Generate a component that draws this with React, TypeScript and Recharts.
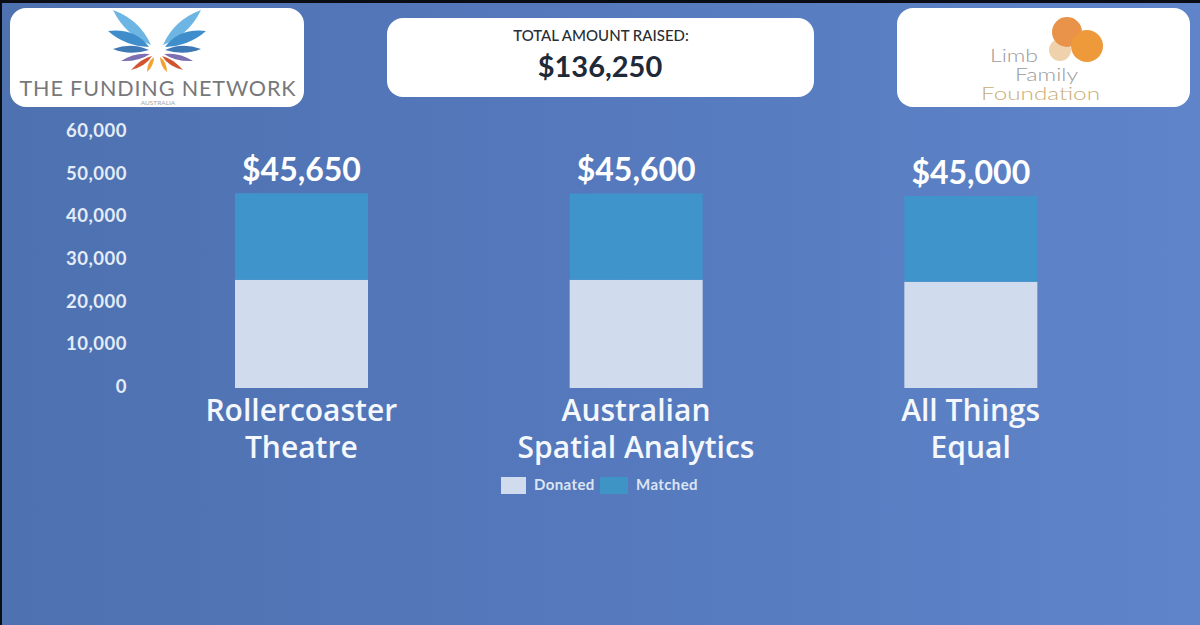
import React from 'react';
import { BarChart, Bar, XAxis, YAxis, Legend, LabelList } from 'recharts';

const organisations = ['Rollercoaster\nTheatre', 'Australian\nSpatial Analytics', 'All Things\nEqual'];
const donated = [25400, 25400, 24900];
const matched = [20250, 20200, 20100];
const totals = [45650, 45600, 45000];
const yTicks = [0, 10000, 20000, 30000, 40000, 50000, 60000];

const totalRaised = '$136,250';
const FONT = 'Lato, sans-serif';

const chartData = organisations.map((name, i) => ({
    name,
    donated: donated[i],
    matched: matched[i],
    total: totals[i],
}));

// logo feathers, left side, mirrored for the right one
const feathers = [
    { d: 'M113 10 Q140 20 151 45 Q125 35 113 10Z', fill: '#6db6e4' },
    { d: 'M108 31 Q135 28 149 47 Q125 46 108 31Z', fill: '#3f8ecb' },
    { d: 'M113 49 Q132 42 149 50 Q130 56 113 49Z', fill: '#3f79b5' },
    { d: 'M121 61 Q135 52 150 54 Q138 62 121 61Z', fill: '#7c6fb2' },
    { d: 'M131 70 Q142 58 152 56 Q146 66 131 70Z', fill: '#d2532f' },
    { d: 'M147 72 Q147 62 154 57 Q154 66 147 72Z', fill: '#f0a232' },
];

const card = (left: number, top: number, width: number, height: number): React.CSSProperties => ({
    position: 'absolute',
    left,
    top,
    width,
    height,
    background: '#fff',
    borderRadius: 16,
});

const CategoryTick = ({ x, y, payload }: any) => (
    <text x={x} textAnchor="middle" fill="#f4f7fc" fontFamily="'Open Sans', sans-serif" fontWeight={600} fontSize={30}>
        {String(payload.value).split('\n').map((line, i) => (
            <tspan key={line} x={x} y={y + 25 + i * 37}>{line}</tspan>
        ))}
    </text>
);

const LegendContent = () => (
    <div style={{ position: 'relative', width: 210, height: 20, fontFamily: FONT, fontWeight: 700, fontSize: 15, letterSpacing: 0.4, color: '#dbe5f4' }}>
        <div style={{ position: 'absolute', left: 0, top: 1, width: 25, height: 17, background: '#d0dcee' }} />
        <div style={{ position: 'absolute', left: 33, top: -1 }}>Donated</div>
        <div style={{ position: 'absolute', left: 99, top: 1, width: 28, height: 17, background: '#3f94c6' }} />
        <div style={{ position: 'absolute', left: 135, top: -1 }}>Matched</div>
    </div>
);

const App = () => (
    <div style={{
        position: 'absolute',
        left: 0,
        top: 0,
        width: 1200,
        height: 625,
        overflow: 'hidden',
        background: 'linear-gradient(90deg, #4e71b0 0%, #5478bb 45%, #5f84c9 100%)',
    }}>
        <div style={{ position: 'absolute', left: 0, top: 0, width: 1200, height: 3, background: '#0a0d14' }} />
        <div style={{ position: 'absolute', left: 0, top: 0, width: 2, height: 625, background: '#0a0d14' }} />

        <div style={card(10, 8, 294, 99)} />
        <div style={card(387, 18, 427, 79)} />
        <div style={card(897, 8, 293, 99)} />

        <svg width={1200} height={120} style={{ position: 'absolute', left: 0, top: 0 }}>
            {feathers.map((f) => (
                <g key={f.fill}>
                    <path d={f.d} fill={f.fill} />
                    <path d={f.d} fill={f.fill} transform="translate(314 0) scale(-1 1)" />
                </g>
            ))}
            <text x={158} y={96} textAnchor="middle" fontFamily={FONT} fontWeight={400} fontSize={21.5} letterSpacing={0.9} fill="#77787a">THE FUNDING NETWORK</text>
            <text x={158} y={105} textAnchor="middle" fontFamily={FONT} fontSize={6.5} fill="#a5a5a8">AUSTRALIA</text>

            <text x={601} y={41} textAnchor="middle" fontFamily={FONT} fontWeight={500} fontSize={15} fill="#2a2d33">TOTAL AMOUNT RAISED:</text>
            <text x={600} y={77} textAnchor="middle" fontFamily={FONT} fontWeight={700} fontSize={29} fill="#1e2a38">{totalRaised}</text>

            <circle cx={1060} cy={50} r={11} fill="#efd2ac" />
            <circle cx={1067} cy={32} r={15} fill="#e8924a" />
            <circle cx={1087} cy={46} r={16} fill="#ee9a3a" />
            <text x={990} y={62} textLength={48} lengthAdjust="spacingAndGlyphs" fontFamily={FONT} fontWeight={300} fontSize={17} fill="#9a9a9c">Limb</text>
            <text x={1015} y={81} textLength={63} lengthAdjust="spacingAndGlyphs" fontFamily={FONT} fontWeight={300} fontSize={17} fill="#9a9a9c">Family</text>
            <text x={981} y={100} textLength={119} lengthAdjust="spacingAndGlyphs" fontFamily={FONT} fontWeight={300} fontSize={17} fill="#c9ae78">Foundation</text>
        </svg>

        <div style={{ position: 'absolute', left: 0, top: 0 }}>
            <BarChart
                width={1200}
                height={625}
                data={chartData}
                barSize={133}
                margin={{ top: 132, right: 62, bottom: 177, left: 74 }}
            >
                <XAxis
                    dataKey="name"
                    axisLine={false}
                    tickLine={false}
                    interval={0}
                    height={60}
                    tick={<CategoryTick />}
                />
                <YAxis
                    width={60}
                    domain={[0, 60000]}
                    ticks={yTicks}
                    axisLine={false}
                    tickLine={false}
                    tickMargin={1}
                    tickFormatter={(v: number) => v.toLocaleString('en-US')}
                    tick={{ fill: '#e4ecf8', fontFamily: FONT, fontWeight: 700, fontSize: 18.5, letterSpacing: 0.5, dy: -1.5 }}
                />
                <Legend
                    layout="horizontal"
                    verticalAlign="middle"
                    content={<LegendContent />}
                    wrapperStyle={{ position: 'absolute', left: 501, top: 476, width: 210 }}
                />
                <Bar dataKey="donated" stackId="a" fill="#d0dcee" isAnimationActive={false} />
                <Bar dataKey="matched" stackId="a" fill="#3f94cb" isAnimationActive={false}>
                    <LabelList
                        dataKey="total"
                        position="top"
                        offset={12}
                        formatter={(v: number) => '$' + v.toLocaleString('en-US')}
                        style={{ fill: '#fff', fontFamily: FONT, fontWeight: 700, fontSize: 32 }}
                    />
                </Bar>
            </BarChart>
        </div>
    </div>
);

export default App;
